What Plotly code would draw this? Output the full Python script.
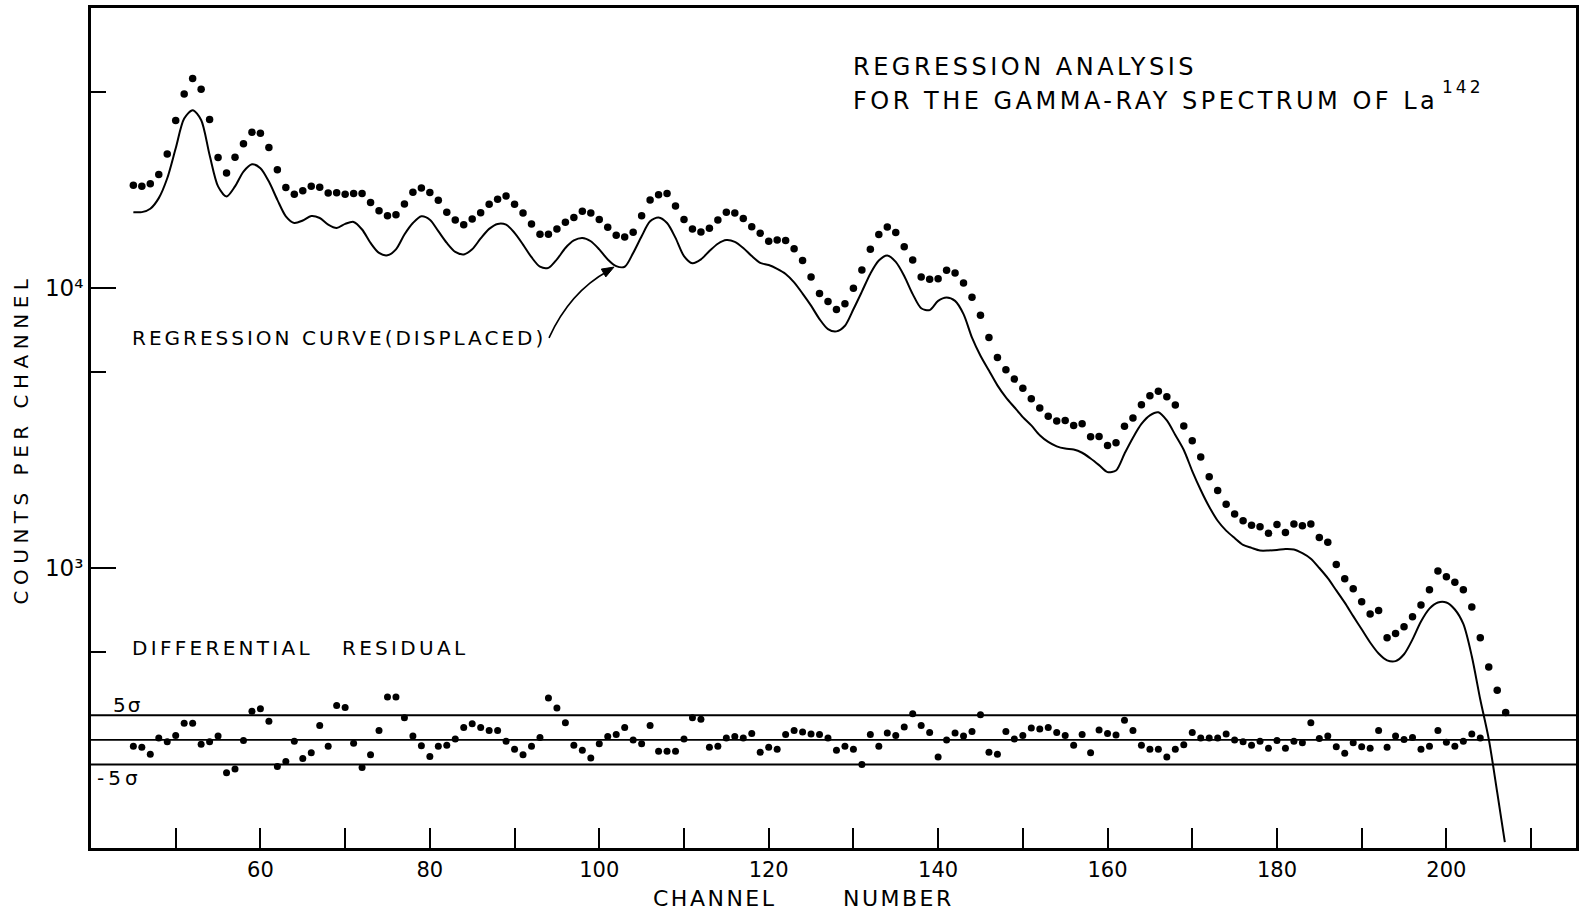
import plotly.graph_objects as go

# ---------------- data ----------------
dot_channels = list(range(45, 208))
dot_counts = [
    23300, 23070, 23550, 25410, 30130, 39630, 49320, 55980, 51290, 39990,
    29240, 25760, 29310, 32730, 35970, 35730, 31770, 26420, 22860, 21630,
    22230, 23070, 22910, 21830, 21880, 21630, 21730, 21730, 20180, 18880,
    18110, 18280, 19950, 21980, 22750, 21930, 20560, 18660, 17500, 16830,
    17620, 18580, 19910, 20750, 21330, 19910, 18540, 16940, 15560, 15560,
    16260, 17180, 17860, 18790, 18540, 17580, 16480, 15420, 15210, 15810,
    18110, 20610, 21530, 21730, 19630, 17580, 16260, 15850, 16330, 17500,
    18660, 18540, 17700, 16560, 15700, 14690, 14830, 14790, 13800, 12530,
    10940, 9550, 8950, 8375, 8790, 9980, 11590, 13740, 15520, 16520,
    15780, 14030, 12590, 10940, 10740, 10790, 11560, 11320, 10420, 9270,
    8000, 6650, 5650, 5105, 4730, 4385, 4020, 3730, 3480, 3350,
    3365, 3230, 3275, 2940, 2950, 2740, 2800, 3210, 3430, 3830,
    4120, 4275, 4090, 3820, 3215, 2845, 2490, 2120, 1890, 1690,
    1560, 1475, 1420, 1405, 1330, 1430, 1340, 1435, 1415, 1435,
    1285, 1235, 1030, 916, 843, 757, 685, 705, 564, 583,
    617, 670, 738, 836, 975, 931, 889, 836, 726, 564,
    443, 366, 305,
]

curve_channels = list(range(45, 207)) + [206.9]
curve_counts = [
    18660, 18660, 19190, 20940, 24660, 31550, 40270, 43150, 39810, 29850,
    23070, 21230, 23070, 26060, 27670, 26790, 23990, 20650, 18030, 17060,
    17420, 18070, 17780, 16830, 16370, 16940, 17220, 16180, 14490, 13340,
    13090, 13740, 15520, 17060, 18030, 17540, 15960, 14490, 13460, 13180,
    13740, 15030, 16260, 16940, 16830, 15740, 14290, 12880, 11910, 11800,
    12650, 13900, 14790, 15100, 14690, 13740, 12650, 11970, 11910, 13340,
    15310, 17300, 17860, 17060, 15100, 13000, 12250, 12650, 13550, 14390,
    14830, 14620, 13900, 13000, 12300, 12080, 11700, 11220, 10470, 9550,
    8650, 7745, 7130, 7000, 7330, 8395, 9705, 11250, 12530, 13060,
    12390, 11040, 9510, 8470, 8335, 8995, 9250, 8995, 8070, 6650,
    5730, 5070, 4490, 4070, 3750, 3460, 3230, 2980, 2820, 2720,
    2670, 2650, 2580, 2460, 2330, 2200, 2230, 2560, 2920, 3270,
    3510, 3600, 3365, 2985, 2640, 2220, 1900, 1655, 1475, 1360,
    1280, 1210, 1180, 1155, 1155, 1160, 1170, 1165, 1130, 1080,
    1000, 920, 832, 752, 673, 604, 542, 495, 468, 465,
    492, 556, 644, 716, 753, 753, 711, 631, 484, 339,
    245, 158, 105,
]

resid_channels = list(range(45, 205))
resid_sigma = [
    -1.3, -1.5, -2.9, 0.4, -0.4, 0.9, 3.4, 3.4, -0.9, -0.4,
    0.8, -6.7, -5.9, -0.1, 5.8, 6.3, 3.8, -5.4, -4.4, -0.3,
    -3.8, -2.6, 2.9, -1.3, 7.0, 6.6, -0.7, -5.6, -3.0, 1.9,
    8.7, 8.7, 4.5, 0.8, -1.2, -3.4, -1.3, -1.1, 0.2, 2.5,
    3.3, 2.5, 1.9, 1.9, -0.3, -1.9, -3.0, -1.3, 0.5, 8.5,
    6.5, 3.5, -1.1, -2.1, -3.7, -0.8, 0.7, 1.1, 2.5, 0.0,
    -0.8, 2.9, -2.3, -2.3, -2.3, 0.2, 4.5, 4.2, -1.5, -1.3,
    0.4, 0.7, 0.4, 1.3, -2.5, -1.5, -1.9, 1.1, 1.9, 1.6,
    1.2, 1.1, 0.4, -2.1, -1.3, -1.9, -5.0, 1.1, -1.3, 1.4,
    0.9, 2.6, 5.3, 2.9, 1.5, -3.5, 0.0, 1.4, 0.8, 1.7,
    5.1, -2.5, -2.9, 1.7, 0.2, 0.9, 2.4, 2.2, 2.5, 1.5,
    0.9, -1.1, 1.1, -2.6, 2.0, 1.3, 1.0, 4.0, 1.9, -1.1,
    -1.9, -1.9, -3.5, -1.9, -1.0, 1.5, 0.4, 0.4, 0.4, 1.2,
    0.0, -0.4, -1.1, -0.3, -1.7, -0.1, -1.7, -0.3, -0.6, 3.5,
    0.3, 0.8, -1.4, -2.7, -0.6, -1.4, -1.7, 1.9, -1.5, 0.8,
    0.1, 0.5, -1.9, -1.3, 1.9, -0.5, -1.3, -0.3, 1.2, 0.4,
]

sigma_levels = [5, 0, -5]

x_major_ticks = [60, 80, 100, 120, 140, 160, 180, 200]
x_minor_ticks = [50, 70, 90, 110, 130, 150, 170, 190, 210]
y_major_ticks = [1000, 10000]
y_major_text = ["10\u00b3", "10\u2074"]
y_minor_ticks = [500, 5000, 50000]

# ---------------- layout geometry ----------------
W, H = 1587, 916
PL, PR, PT, PB = 91, 1576, 5, 848
FONT = "DejaVu Sans"


def px(x):
    return (x - PL) / (PR - PL)


def py(y):
    return (PB - y) / (PB - PT)


fig = go.Figure()

fig.add_trace(go.Scatter(
    x=curve_channels, y=curve_counts, mode="lines",
    line=dict(color="black", width=2, shape="spline", smoothing=0.8),
    showlegend=False, hoverinfo="skip"))

fig.add_trace(go.Scatter(
    x=dot_channels, y=dot_counts, mode="markers",
    marker=dict(color="black", size=7.5),
    showlegend=False, hoverinfo="skip"))

fig.add_trace(go.Scatter(
    x=resid_channels, y=resid_sigma, mode="markers", yaxis="y2",
    marker=dict(color="black", size=7),
    showlegend=False, hoverinfo="skip"))

shapes = []
for lvl in sigma_levels:
    shapes.append(dict(type="line", xref="paper", x0=0, x1=1, yref="y2",
                       y0=lvl, y1=lvl, line=dict(color="black", width=1.8)))

# curved arrow from the label to the regression curve
shapes.append(dict(
    type="path", xref="paper", yref="paper",
    path="M {:.5f},{:.5f} Q {:.5f},{:.5f} {:.5f},{:.5f}".format(
        px(549), py(336), px(570), py(290), px(608), py(269)),
    line=dict(color="black", width=1.6)))

# arrow head (filled triangle)
tip = (614.0, 265.0)
d = (0.870, -0.494)
nrm = (0.494, 0.870)
hl, hw = 12.0, 4.5
base = (tip[0] - hl * d[0], tip[1] - hl * d[1])
c1 = (base[0] + hw * nrm[0], base[1] + hw * nrm[1])
c2 = (base[0] - hw * nrm[0], base[1] - hw * nrm[1])
shapes.append(dict(
    type="path", xref="paper", yref="paper",
    path="M {:.5f},{:.5f} L {:.5f},{:.5f} L {:.5f},{:.5f} Z".format(
        px(tip[0]), py(tip[1]), px(c1[0]), py(c1[1]), px(c2[0]), py(c2[1])),
    fillcolor="black", line=dict(color="black", width=1)))

ann = []
# 0, 1: title
ann.append(dict(text="REGRESSION ANALYSIS", x=px(851), y=py(80.5),
                xanchor="left", yanchor="bottom", align="left",
                font=dict(size=24)))
ann.append(dict(text="FOR THE GAMMA-RAY SPECTRUM OF La",
                x=px(851), y=py(114.5), xanchor="left", yanchor="bottom",
                align="left", font=dict(size=24)))
# 2
ann.append(dict(text="REGRESSION CURVE(DISPLACED)", x=px(130), y=py(350),
                xanchor="left", yanchor="bottom", align="left",
                font=dict(size=20)))
# 3
ann.append(dict(text="DIFFERENTIAL\u00a0\u00a0\u00a0RESIDUAL", x=px(130),
                y=py(661), xanchor="left", yanchor="bottom", align="left",
                font=dict(size=20)))
# 4, 5
ann.append(dict(text="5σ", x=px(111), y=py(718.5), xanchor="left",
                yanchor="bottom", align="left", font=dict(size=20)))
ann.append(dict(text="-5σ", x=px(95), y=py(792), xanchor="left",
                yanchor="bottom", align="left", font=dict(size=20)))
# 6: x title
ann.append(dict(text="CHANNEL" + "\u00a0" * 7 + "NUMBER", x=px(803),
                y=py(913), xanchor="center", yanchor="bottom",
                font=dict(size=22)))
# 7: y title
ann.append(dict(text="COUNTS PER CHANNEL", x=px(21), y=py(437.5),
                xanchor="center", yanchor="middle", textangle=-90,
                font=dict(size=20)))
# 8: mass number written as a raised index after "La"
ann.append(dict(text="142", x=px(1440), y=py(96), xanchor="left",
                yanchor="bottom", align="left", font=dict(size=17)))

for a in ann:
    a.setdefault("xref", "paper")
    a.setdefault("yref", "paper")
    a.setdefault("showarrow", False)
    f = a.get("font", {})
    f.setdefault("family", FONT)
    f.setdefault("color", "black")
    a["font"] = f

# residual axis mapping: +5 and -5 on the drawn lines
zero_px, px_per_sigma = 739.5, 4.94
y2_top = (zero_px - PT) / px_per_sigma
y2_bot = (zero_px - PB) / px_per_sigma

fig.update_layout(
    width=W, height=H,
    margin=dict(l=PL, r=W - PR, t=PT, b=H - PB, pad=0),
    paper_bgcolor="white", plot_bgcolor="white",
    font=dict(family=FONT, color="black"),
    showlegend=False,
    shapes=shapes, annotations=ann,
    xaxis=dict(
        range=[40, 215.3], showgrid=False, zeroline=False,
        showline=True, linewidth=3, linecolor="black", mirror=True,
        ticks="inside", ticklen=20, tickwidth=2, tickcolor="black",
        tickmode="array", tickvals=x_major_ticks,
        tickfont=dict(family=FONT, size=21, color="black"),
        ticklabelstandoff=1,
        minor=dict(tickmode="array", tickvals=x_minor_ticks, ticks="inside",
                   ticklen=20, tickwidth=2, tickcolor="black", showgrid=False),
    ),
    yaxis=dict(
        type="log", range=[2, 5.0], showgrid=False, zeroline=False,
        showline=True, linewidth=3, linecolor="black", mirror=True,
        ticks="inside", ticklen=25, tickwidth=2, tickcolor="black",
        tickmode="array", tickvals=y_major_ticks, ticktext=y_major_text,
        tickfont=dict(family=FONT, size=23, color="black"),
        ticklabelstandoff=0,
        minor=dict(tickmode="array", tickvals=y_minor_ticks, ticks="inside",
                   ticklen=15, tickwidth=2, tickcolor="black", showgrid=False),
    ),
    yaxis2=dict(overlaying="y", range=[y2_bot, y2_top], visible=False,
                showgrid=False, zeroline=False),
)

post = """
document.body.style.margin = '0';
var gd = document.getElementById('{plot_id}');
var ls = {0: 3.5, 1: 3.5, 2: 3, 3: 3.3, 4: 2, 5: 4, 6: 2.5, 7: 5.5, 8: 3};
gd.querySelectorAll('g.annotation').forEach(function(g){
  var i = parseInt(g.getAttribute('data-index'));
  var t = g.querySelector('text.annotation-text');
  if (t && ls[i] !== undefined) { t.style.letterSpacing = ls[i] + 'px'; }
});
"""

fig.write_html("out.html", post_script=post, config={"displayModeBar": False})
